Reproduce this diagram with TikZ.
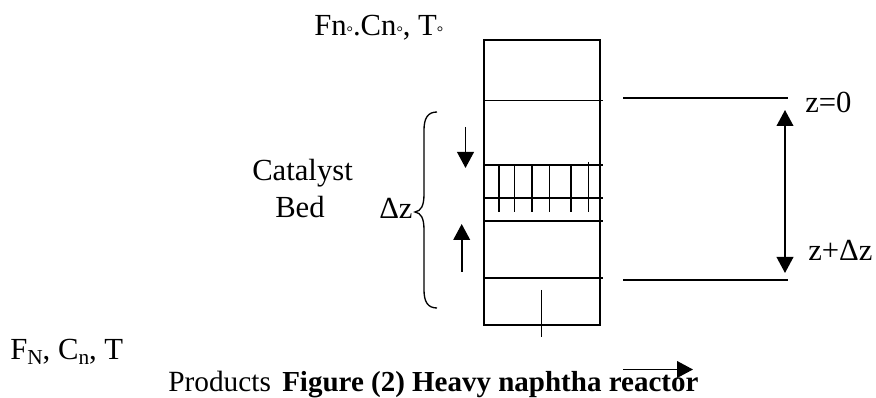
\documentclass[tikz,border=0pt]{standalone}
\usepackage{fontspec}
\setmainfont{Liberation Serif}
\usetikzlibrary{arrows.meta}
\newcommand{\ringsub}{{\fontsize{12}{12}\selectfont\raisebox{-1.5pt}{°}}}
\newcommand{\lowsub}[1]{{\fontsize{16}{16}\selectfont\raisebox{-3.5pt}{#1}}}
\tikzset{
  x=0.75pt,y=-0.75pt,
  ln/.style={line width=1.3pt},
  big/.style={font=\fontsize{23}{25}\selectfont,inner sep=0pt,anchor=base west},
  low/.style={font=\fontsize{22}{24}\selectfont,inner sep=0pt,anchor=base west},
  tip/.style={-{Triangle[length=12pt,width=12.5pt]},line width=1.3pt},
  both/.style={{Triangle[length=12pt,width=12.5pt]}-{Triangle[length=12pt,width=12.5pt]},line width=1.3pt}
}
\begin{document}
\begin{tikzpicture}
\useasboundingbox (0,0) rectangle (876,398);
% column
\draw[line width=1.5pt] (483.5,40) rectangle (600,325.5);
\foreach \yy in {100.5,165,198,221,278}
  \draw[ln] (484,\yy) -- (603,\yy);
\foreach \xx/\ya in {499/165,514.5/165,532/165,549.5/165,571/165,588.5/162}
  \draw[ln] (\xx,\ya) -- (\xx,212);
\draw[ln] (541.5,290) -- (541.5,337);
% datum lines
\draw[ln] (623,98) -- (788,98);
\draw[ln] (623,280) -- (788,280);
\draw[both] (785,110) -- (785,273);
% flow arrows
\draw[tip] (465.5,127) -- (465.5,168);
\draw[tip] (461.7,272) -- (461.7,224);
\draw[tip] (623,369.5) -- (693,369.5);
% brace
\draw[line width=1pt] (437,112) .. controls (428,112) and (424,118) .. (424,130)
  -- (424,194) .. controls (424,206) and (421,211) .. (415,212)
  .. controls (421,213) and (424,218) .. (424,230)
  -- (424,290) .. controls (424,302) and (428,308) .. (437,308);
% labels
\node[big] (feed) at (314,36) {Fn\ringsub.Cn\ringsub, T\ringsub};
\node[big] (zero) at (805,113) {z=0};
\node[big] (zdz) at (808,261) {z+Δz};
\node[big] (cat) at (252,181) {Catalyst};
\node[big] (bed) at (275,218) {Bed};
\node[big] (dz) at (379,219) {Δz};
\node[big] (out) at (10,360) {F\lowsub{N}, C\lowsub{n}, T};
\node[low] (prod) at (168,392) {Products\hspace{8.5pt}{\fontsize{21.75}{24}\selectfont\textbf{Figure (2) Heavy naphtha reactor}}};
\end{tikzpicture}
\end{document}
